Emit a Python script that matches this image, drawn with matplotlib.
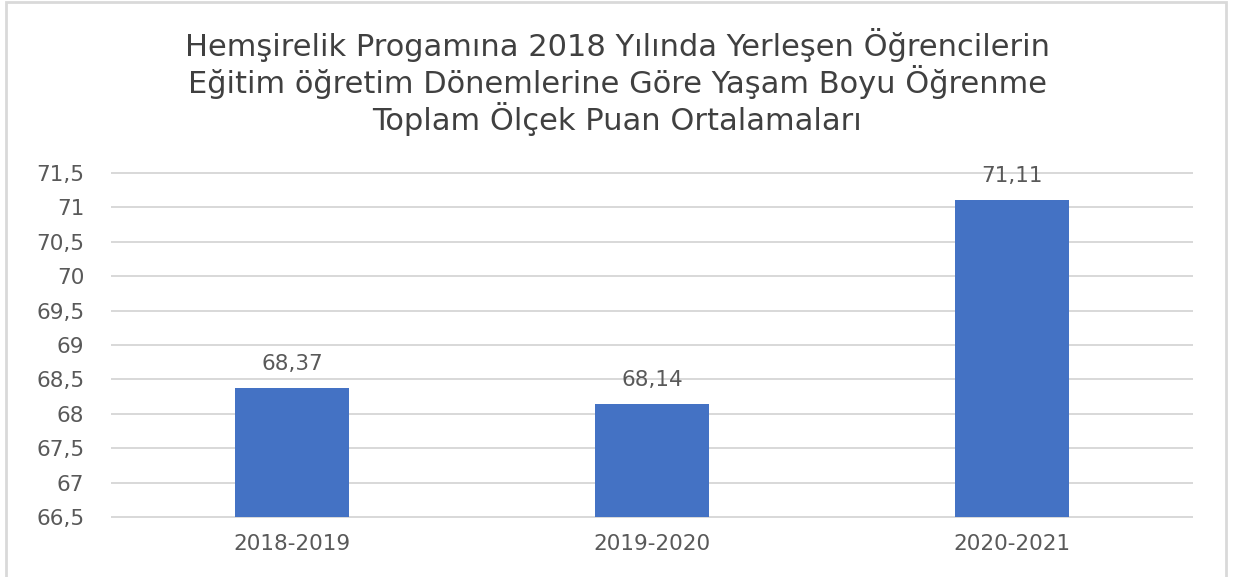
import matplotlib
matplotlib.use("Agg")
import matplotlib.pyplot as plt
from matplotlib.patches import Rectangle
import numpy as np

title = "Hemşirelik Progamına 2018 Yılında Yerleşen Öğrencilerin\nEğitim öğretim Dönemlerine Göre Yaşam Boyu Öğrenme\nToplam Ölçek Puan Ortalamaları"
categories = ["2018-2019", "2019-2020", "2020-2021"]
values = [68.37, 68.14, 71.11]
yticks = [66.5, 67, 67.5, 68, 68.5, 69, 69.5, 70, 70.5, 71, 71.5]

plt.rcParams['font.family'] = ['DejaVu Sans']
txt = '#595959'

fig = plt.figure(figsize=(12.35, 5.77), dpi=100)
ax = fig.add_axes([112/1235, 1-517/577, 1080/1235, 344/577])

x = np.arange(len(categories))
ax.bar(x, values, width=0.314, color='#4472C4', zorder=3)
for xi, v in zip(x, values):
    ax.annotate(f"{v:.2f}".replace('.', ','), (xi, v), xytext=(0, 10),
                textcoords='offset points', ha='center', va='bottom',
                fontsize=15.5, color=txt)

ax.set_xlim(-0.5, 2.5)
ax.set_ylim(66.5, 71.5)
ax.set_yticks(yticks)
ax.set_yticklabels([(f"{t:g}").replace('.', ',') for t in yticks])
ax.set_xticks(x)
ax.set_xticklabels(categories)
ax.tick_params(axis='both', length=0, labelsize=15.5, labelcolor=txt)
ax.tick_params(axis='y', pad=20)
ax.tick_params(axis='x', pad=12)
ax.grid(axis='y', color='#D9D9D9', linewidth=1.44, zorder=0)
for gl in ax.get_ygridlines():
    gl.set_clip_on(False)
for s in ax.spines.values():
    s.set_visible(False)

fig.text(0.5, 1-82/577, title, ha='center', va='center', fontsize=22,
         color='#404040', linespacing=1.09)

fig.patches.append(Rectangle((6/1235, -0.01), 1220/1235, 1-2/577+0.01,
                             transform=fig.transFigure, fill=False,
                             edgecolor='#D9D9D9', linewidth=2))

fig.savefig("out.png", dpi=100)
